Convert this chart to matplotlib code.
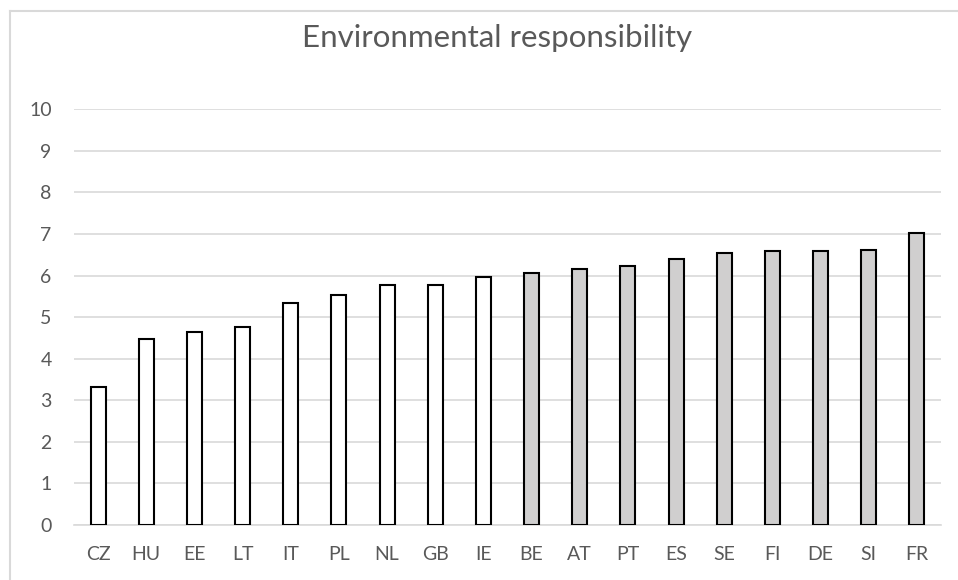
import matplotlib.pyplot as plt
from matplotlib.lines import Line2D

countries = ["CZ", "HU", "EE", "LT", "IT", "PL", "NL", "GB", "IE",
             "BE", "AT", "PT", "ES", "SE", "FI", "DE", "SI", "FR"]
scores = [3.31, 4.48, 4.65, 4.77, 5.35, 5.53, 5.77, 5.77, 5.97,
          6.07, 6.17, 6.24, 6.40, 6.55, 6.59, 6.60, 6.62, 7.03]
# first nine countries drawn hollow, the rest filled grey
n_hollow = 9

plt.rcParams['font.family'] = ['Lato', 'DejaVu Sans']

fig = plt.figure(figsize=(9.58, 5.80), dpi=100)
ax = fig.add_axes([0.0772, 0.0948, 0.9051, 0.7168])

colors = ["white"] * n_hollow + ["#d0cfcf"] * (len(countries) - n_hollow)
x = range(len(countries))
ax.bar(x, scores, width=0.31, color=colors, edgecolor="black", linewidth=1.5, zorder=3)

ax.set_xlim(-0.5, len(countries) - 0.5)
ax.set_ylim(0, 10)
ax.set_yticks(range(0, 11))
ax.set_xticks(list(x))
ax.set_xticklabels(countries)
ax.grid(axis="y", color="#d9d9d9", linewidth=1.2, zorder=0)
for side in ["top", "right", "left"]:
    ax.spines[side].set_visible(False)
ax.spines["bottom"].set_color("#d9d9d9")
ax.spines["bottom"].set_linewidth(1.2)
ax.tick_params(axis="both", length=0, labelsize=14, labelcolor="#595959")
ax.tick_params(axis="y", pad=16)
ax.tick_params(axis="x", pad=15)

fig.text(0.519, 0.935, "Environmental responsibility", ha="center", va="center",
         fontsize=22.5, color="#595959")

# chart frame: only its top and left edges fall inside the image
fx = 10 / 958
fy = 1 - 10.5 / 580
fig.add_artist(Line2D([fx, 1.0], [fy, fy], transform=fig.transFigure,
                      color="#d9d9d9", linewidth=1.5))
fig.add_artist(Line2D([fx, fx], [0.0, fy], transform=fig.transFigure,
                      color="#d9d9d9", linewidth=1.5))

fig.savefig("out.png", dpi=100)
